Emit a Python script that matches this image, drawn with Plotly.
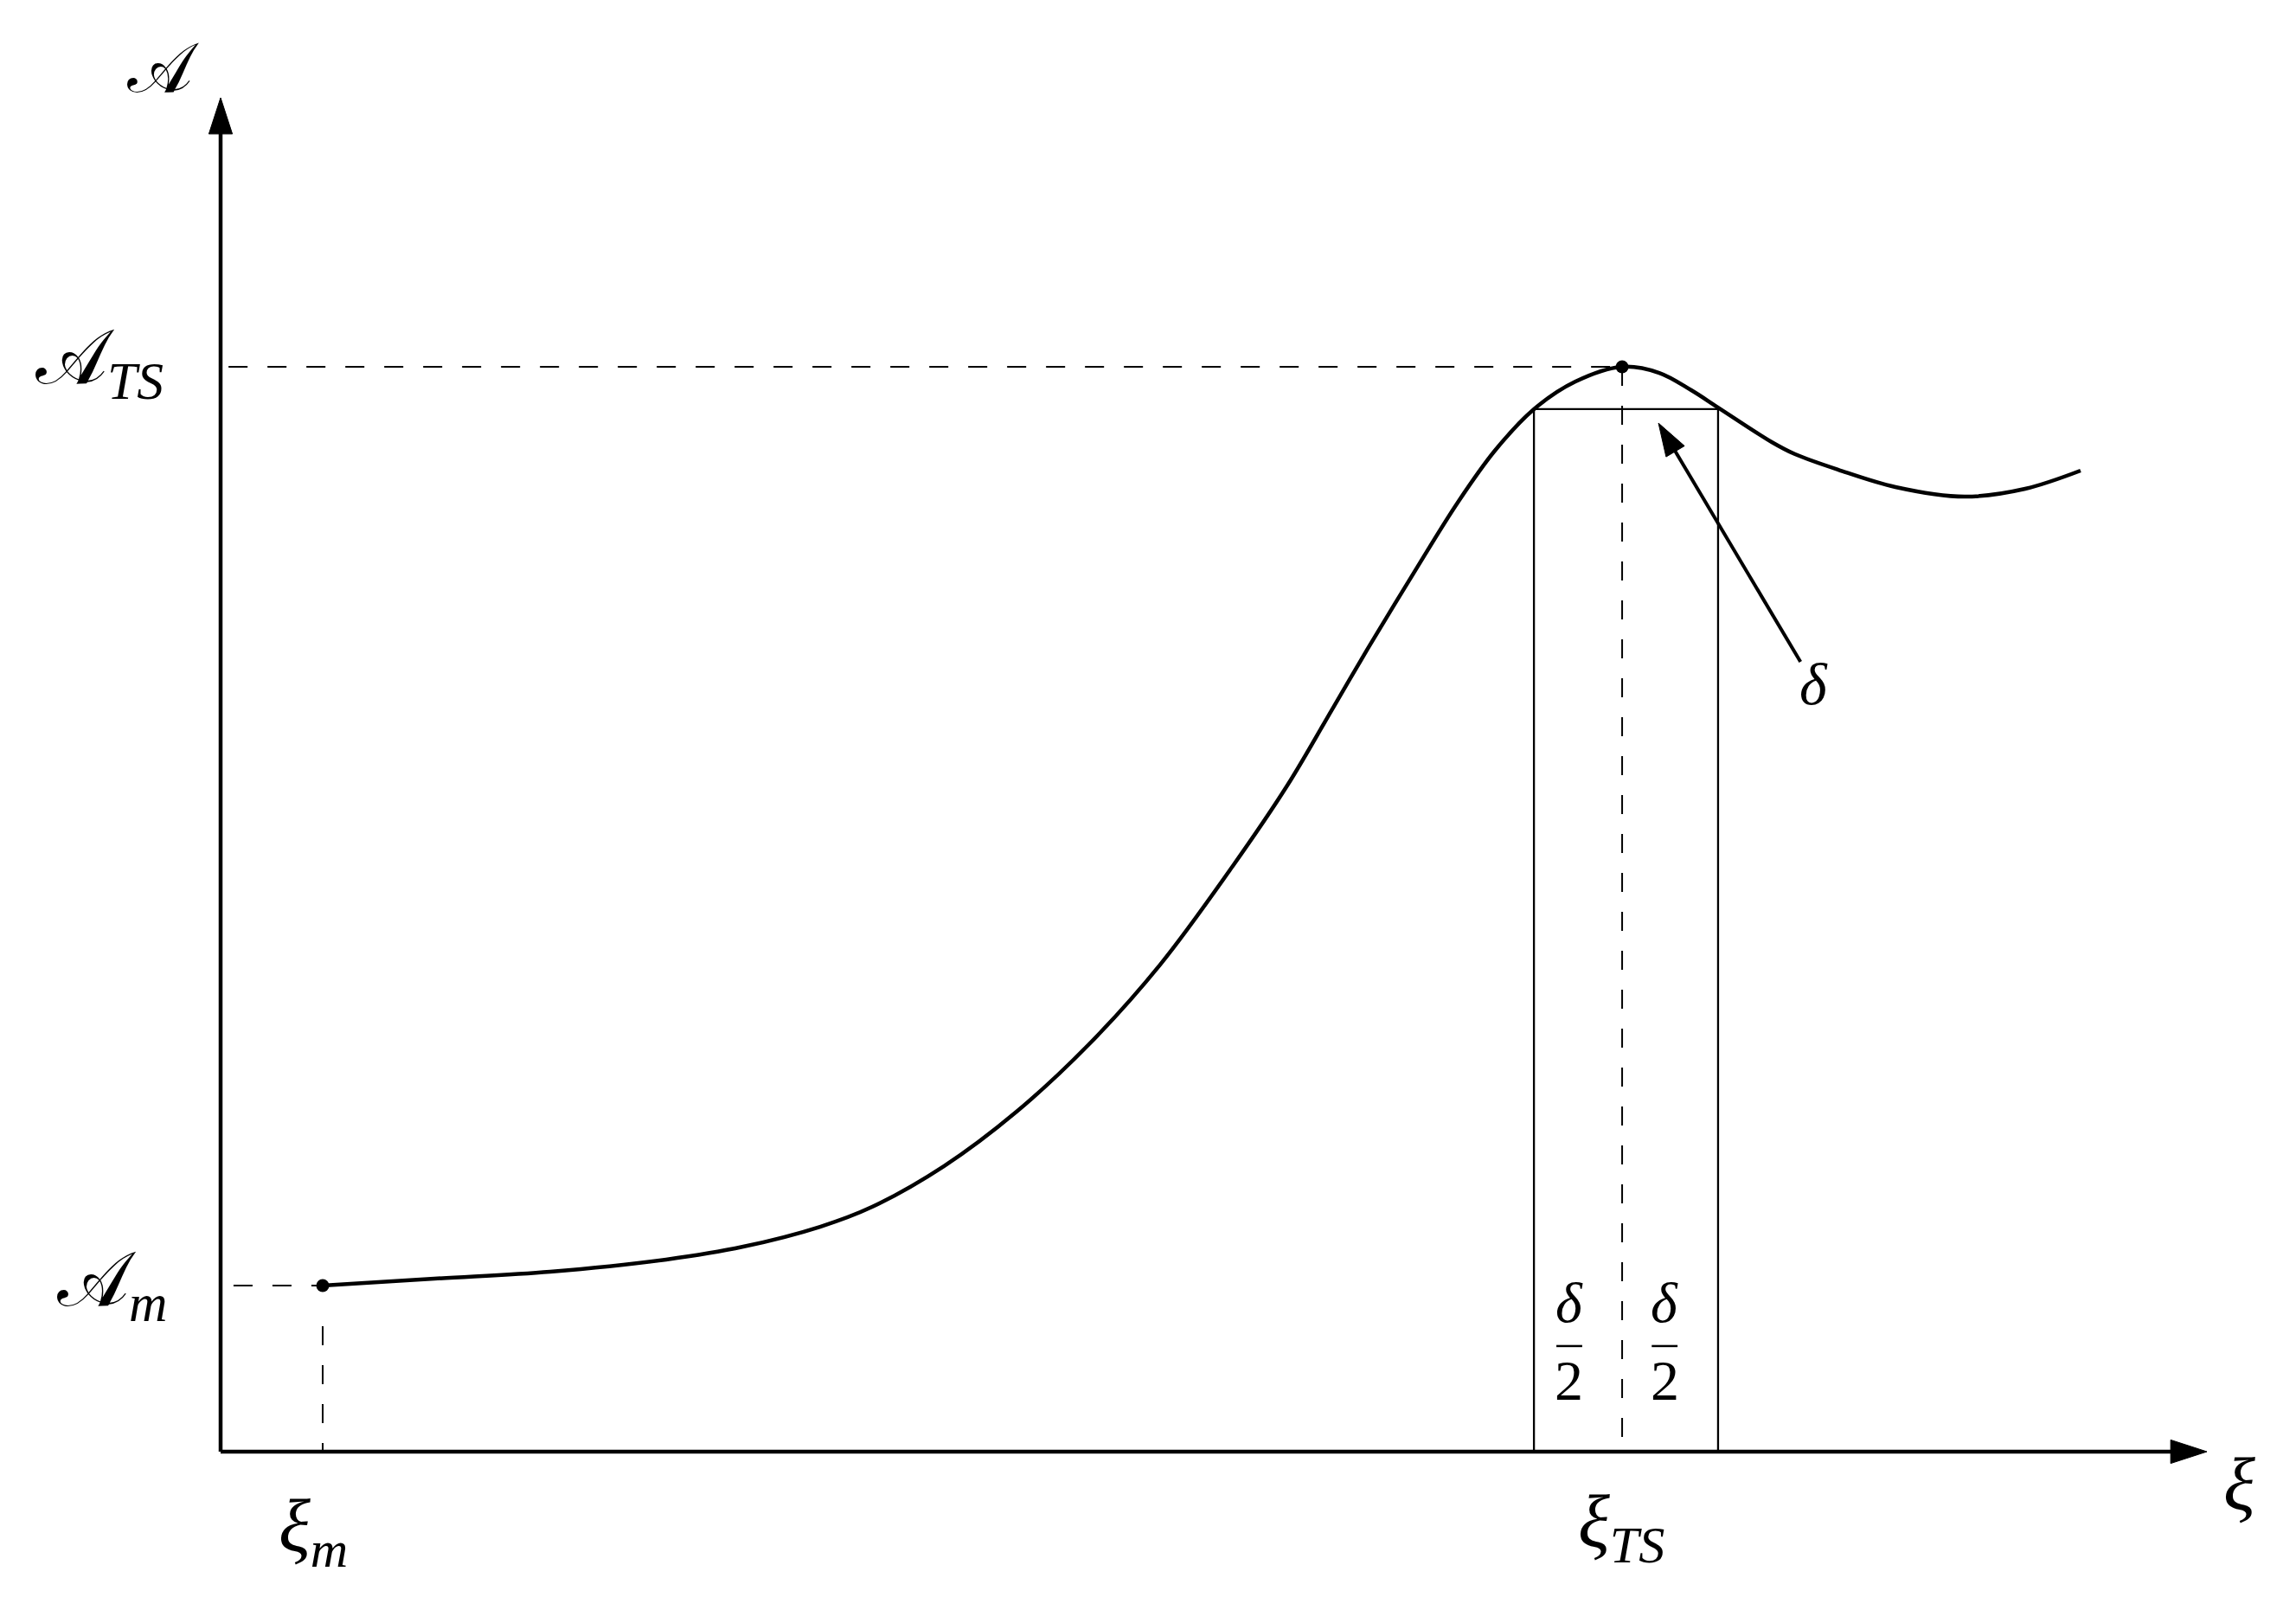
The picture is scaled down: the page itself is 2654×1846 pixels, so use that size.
import plotly.graph_objects as go

# reaction coordinate xi and the curve A(xi)
xi = [0.514, 1.076, 1.659, 2.243, 2.631, 3.018, 3.280, 3.641, 4.007, 4.368,
      4.730, 5.096, 5.370, 5.601, 5.775, 6.010, 6.228, 6.415, 6.612, 6.821,
      7.056, 7.243, 7.404, 7.539, 7.809, 7.927, 8.145, 8.432, 8.780, 9.085,
      9.364]
A = [1.227, 1.278, 1.329, 1.419, 1.514, 1.661, 1.808, 2.108, 2.511, 3.003,
     3.597, 4.326, 4.920, 5.495, 5.930, 6.498, 7.010, 7.393, 7.700, 7.904,
     8.013, 7.968, 7.840, 7.712, 7.457, 7.367, 7.252, 7.125, 7.054, 7.112,
     7.246]

# special points
xi_m, A_m = xi[0], A[0]
xi_ts, A_ts = xi[20], A[20]

# delta window around the transition state
delta_left, delta_right, delta_top = 6.612, 7.539, 7.70
frac_x = [6.79, 7.27]

# axis extents and the delta pointer
axis_max = 10
pointer_tail = (7.954, 5.834)
pointer_tip = (7.239, 7.597)

FONT = 'Liberation Serif'
BLACK = '#000000'
DASH = '22px,23px'


def dashed(x, y):
    return go.Scatter(x=x, y=y, mode='lines', hoverinfo='skip',
                      line=dict(color=BLACK, width=2, dash=DASH))


def arrow(x, y, width, head):
    # line with a stealth-like head on its last point
    return go.Scatter(
        x=x, y=y, mode='lines+markers', hoverinfo='skip',
        line=dict(color=BLACK, width=width),
        marker=dict(symbol='arrow', size=[0, head], color=BLACK, opacity=1,
                    angleref='previous', line=dict(width=1, color=BLACK))
    )


def label(text, x, y, size, **kw):
    return dict(text=text, x=x, y=y, xref='x', yref='y', showarrow=False,
                font=dict(family=FONT, size=size, color=BLACK), **kw)


fig = go.Figure()

# guides
fig.add_trace(dashed([0.04, xi_ts], [A_ts, A_ts]))
fig.add_trace(dashed([xi_ts, xi_ts], [A_ts, 0]))
fig.add_trace(dashed([0.065, xi_m], [A_m, A_m]))
fig.add_trace(dashed([xi_m, xi_m], [A_m - 0.3, 0]))

# delta window
fig.add_trace(go.Scatter(
    x=[delta_left, delta_left, delta_right, delta_right],
    y=[0, delta_top, delta_top, 0],
    mode='lines', hoverinfo='skip',
    line=dict(color=BLACK, width=2.3)
))

# axes
fig.add_trace(arrow([0, 0], [0, axis_max], 4.5, 44))
fig.add_trace(arrow([0, axis_max], [0, 0], 4.5, 44))
fig.add_trace(arrow([pointer_tail[0], pointer_tip[0]],
                    [pointer_tail[1], pointer_tip[1]], 4, 40))

# curve
fig.add_trace(go.Scatter(
    x=xi, y=A, mode='lines', hoverinfo='skip',
    line=dict(color=BLACK, width=4.5, shape='spline', smoothing=1)
))
fig.add_trace(go.Scatter(
    x=[xi_m, xi_ts], y=[A_m, A_ts], mode='markers', hoverinfo='skip',
    marker=dict(color=BLACK, size=15)
))

annotations = [
    label('𝒜', -0.29, 10.22, 80),
    label('𝒜<sub><i>TS</i></sub>', -0.279, A_ts + 0.03, 88, xanchor='right'),
    label('𝒜<sub><i>m</i></sub>', -0.261, A_m, 88, xanchor='right'),
    label('<i>ξ</i><sub><i>m</i></sub>', xi_m - 0.05, -0.23, 86,
          yanchor='top'),
    label('<i>ξ</i><sub><i>TS</i></sub>', 7.05, -0.20, 86, yanchor='top'),
    label('<i>ξ</i>', 10.163, -0.24, 86),
    label('<i>δ</i>', 8.022, 5.67, 68),
]

# delta/2 fractions in each half of the window
for cx in frac_x:
    annotations.append(label('<i>δ</i>', cx, 1.10, 66))
    annotations.append(label('2', cx, 0.53, 66))
    fig.add_shape(type='line', x0=cx - 0.065, x1=cx + 0.065, y0=0.78,
                  y1=0.78, xref='x', yref='y',
                  line=dict(color=BLACK, width=2.5))

# pixel scale of the sketch: origin at (247, 1670), 229.6 px per xi unit,
# 156.5 px per A unit, on a 2654 x 1846 canvas
fig.update_layout(
    width=2654, height=1846,
    margin=dict(l=0, r=0, t=0, b=0, pad=0),
    plot_bgcolor='white', paper_bgcolor='white',
    showlegend=False,
    xaxis=dict(range=[-247 / 229.6, (2654 - 247) / 229.6], visible=False,
               fixedrange=True),
    yaxis=dict(range=[-(1846 - 1670) / 156.5, 1670 / 156.5], visible=False,
               fixedrange=True),
    annotations=annotations,
)

fig.write_html('out.html')
